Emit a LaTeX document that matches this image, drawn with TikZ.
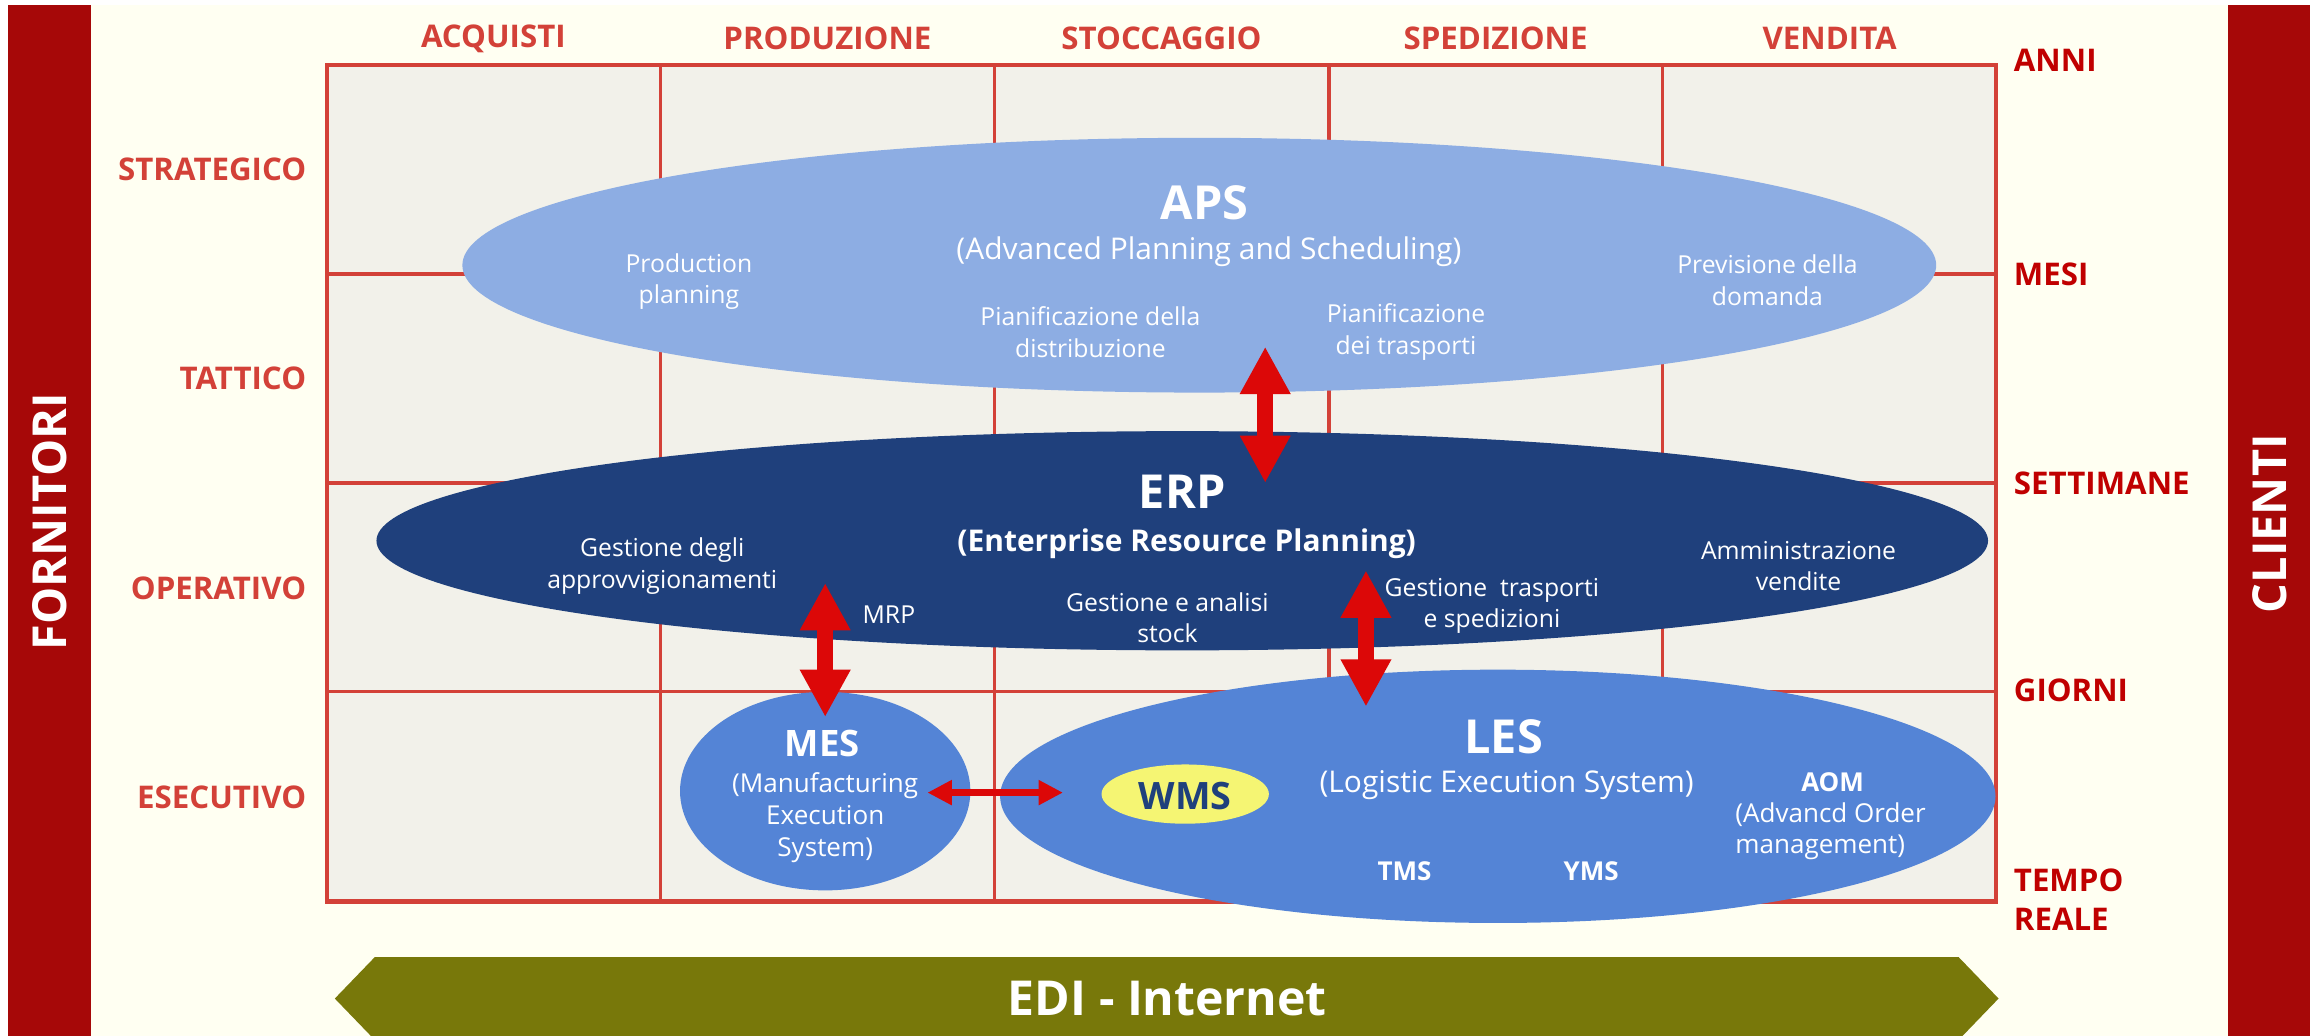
\documentclass[tikz,border=0pt]{standalone}
\usepackage{fontspec}
\setmainfont{Open Sans}
\usepackage{tikz}
\usetikzlibrary{arrows.meta,shapes.geometric}
\definecolor{barred}{RGB}{166,8,8}
\definecolor{cream}{RGB}{255,255,242}
\definecolor{cellgray}{RGB}{242,241,234}
\definecolor{gridred}{RGB}{211,65,56}
\definecolor{labred}{RGB}{192,0,0}
\definecolor{apsblue}{RGB}{141,173,227}
\definecolor{erpblue}{RGB}{31,64,124}
\definecolor{lesblue}{RGB}{84,132,214}
\definecolor{wmsyellow}{RGB}{245,245,115}
\definecolor{arrred}{RGB}{220,8,8}
\definecolor{ediolive}{RGB}{120,120,10}

\begin{document}
\begin{tikzpicture}[x=0.02cm,y=-0.02cm,
  gridline/.style={gridred,line width=1.25pt},
  blob/.style={ellipse,inner sep=0pt,draw=none},
  tx/.style={white,align=center,inner sep=0pt,font=\fontsize{9.5}{12.2}\selectfont},
  sub/.style={white,align=center,inner sep=0pt,font=\fontsize{11.5}{13}\selectfont},
  big/.style={white,inner sep=0pt,font=\bfseries\fontsize{18}{20}\selectfont},
  hdr/.style={gridred,inner sep=0pt,font=\bfseries\fontsize{12}{14}\selectfont},
  tlab/.style={labred,anchor=west,align=left,inner sep=0pt,font=\bfseries\fontsize{12}{15}\selectfont},
  side/.style={white,inner sep=0pt,rotate=90,font=\bfseries\fontsize{18}{20}\selectfont},
  link/.style={arrred,line width=0.21cm,>={Triangle[width=0.64cm,length=0.64cm]},<->},
  thinlink/.style={arrred,line width=0.09cm,>={Triangle[width=0.32cm,length=0.33cm]},<->}]
\useasboundingbox (0,0) rectangle (1568,699);
\clip (0,0) rectangle (1568,699);
\fill[cream] (61.2,3.4) rectangle (1504,699);
\fill[barred] (5.7,3.4) rectangle (61.2,699);
\fill[barred] (1504,3.4) rectangle (1559,699);
\node[side] (fornitori) at (33.5,352) {FORNITORI};
\node[side] (clienti) at (1532,353.5) {CLIENTI};

\fill[cellgray] (220.5,44) rectangle (1347.5,608.5);
\foreach \x in {446,671.5,897,1122} \draw[gridline] (\x,44) -- (\x,608.5);
\foreach \y in {185,326,467} \draw[gridline] (220.5,\y) -- (1347.5,\y);
\draw[gridline,line width=1.6pt] (220.5,44) rectangle (1347.5,608.5);

\foreach \t [count=\i] in {ACQUISTI,PRODUZIONE,STOCCAGGIO,SPEDIZIONE,VENDITA}
  \node[hdr] (col\i) at ({107.5+225.5*\i},26) {\t};
\foreach \t [count=\i] in {STRATEGICO,TATTICO,OPERATIVO,ESECUTIVO}
  \node[hdr,anchor=east] (row\i) at (207,{141.1*\i-26.5}) {\t};
\node[tlab] (anni) at (1359,41) {ANNI};
\node[tlab] (mesi) at (1359,185) {MESI};
\node[tlab] (settimane) at (1359,326) {SETTIMANE};
\node[tlab] (giorni) at (1359,466) {GIORNI};
\node[tlab] (tempo) at (1359,607) {TEMPO\\REALE};

\node[blob,fill=apsblue,minimum width=19.9cm,minimum height=3.44cm] (aps) at (809.5,179) {};
\node[blob,fill=erpblue,minimum width=21.76cm,minimum height=2.96cm] (erp) at (798,365) {};
\node[blob,fill=lesblue,minimum width=3.92cm,minimum height=2.68cm] (mes) at (557,534) {};
\node[blob,fill=lesblue,minimum width=13.44cm,minimum height=3.42cm] (les) at (1011,537.5) {};
\node[blob,fill=wmsyellow,minimum width=2.26cm,minimum height=0.8cm] (wms) at (800,536) {};

\node[big] (apst) at (813,137) {APS};
\node[sub] (apss) at (816,170) {(Advanced Planning and Scheduling)};
\node[tx] (prod) at (465,190) {Production\\planning};
\node[tx] (distr) at (736,224) {Pianificazione della\\distribuzione};
\node[tx] (trasp) at (949,224) {Pianificazione\\dei trasporti};
\node[tx] (prev) at (1193,189) {Previsione della\\domanda};

\node[big] (erpt) at (798,332) {ERP};
\node[sub,font=\bfseries\fontsize{11.5}{13}\selectfont] (erps) at (801,367) {(Enterprise Resource Planning)};
\node[tx] (approv) at (447,382) {Gestione degli\\approvvigionamenti};
\node[tx] (mrp) at (600,415) {MRP};
\node[tx] (stock) at (788,417) {Gestione e analisi\\stock};
\node[tx] (sped) at (1007,409) {Gestione~~trasporti\\e spedizioni};
\node[tx] (amm) at (1214,382) {Amministrazione\\vendite};

\node[big,font=\bfseries\fontsize{14}{16}\selectfont] (mest) at (555,502) {MES};
\node[tx,font=\fontsize{10}{12.2}\selectfont] (mess) at (557,552) {(Manufacturing\\Execution\\System)};
\node[big] (lest) at (1015,497) {LES};
\node[sub] (less) at (1017,530) {(Logistic Execution System)};
\node[inner sep=0pt,text=erpblue,font=\bfseries\fontsize{14.5}{16}\selectfont] (wmst) at (800,537) {WMS};
\node[tx,font=\bfseries\fontsize{10}{12}\selectfont] (aom) at (1237,528) {AOM};
\node[tx,anchor=west,align=left,font=\fontsize{10}{12}\selectfont] (aoms) at (1171,561) {(Advancd Order\\management)};
\node[tx,font=\bfseries\fontsize{10}{12}\selectfont] (tms) at (948,588) {TMS};
\node[tx,font=\bfseries\fontsize{10}{12}\selectfont] (yms) at (1074,588) {YMS};

\coordinate (apsdn) at (854,234);
\coordinate (erpup) at (854,326);
\coordinate (erpmrp) at (557,393.5);
\coordinate (mesup) at (557,484);
\coordinate (erples) at (922,385);
\coordinate (lesup) at (922,477);
\coordinate (mesr) at (626,535);
\coordinate (lesl) at (717.5,535);
\draw[link] (apsdn) -- (erpup);
\draw[link] (erpmrp) -- (mesup);
\draw[link] (erples) -- (lesup);
\draw[thinlink] (mesr) -- (lesl);

\fill[ediolive] (226,674) -- (253,646) -- (1322,646) -- (1349,674) -- (1322,702) -- (253,702) -- cycle;
\node[white,inner sep=0pt,font=\bfseries\fontsize{18.5}{20}\selectfont] (edi) at (788,674) {EDI - Internet};
\end{tikzpicture}
\end{document}
